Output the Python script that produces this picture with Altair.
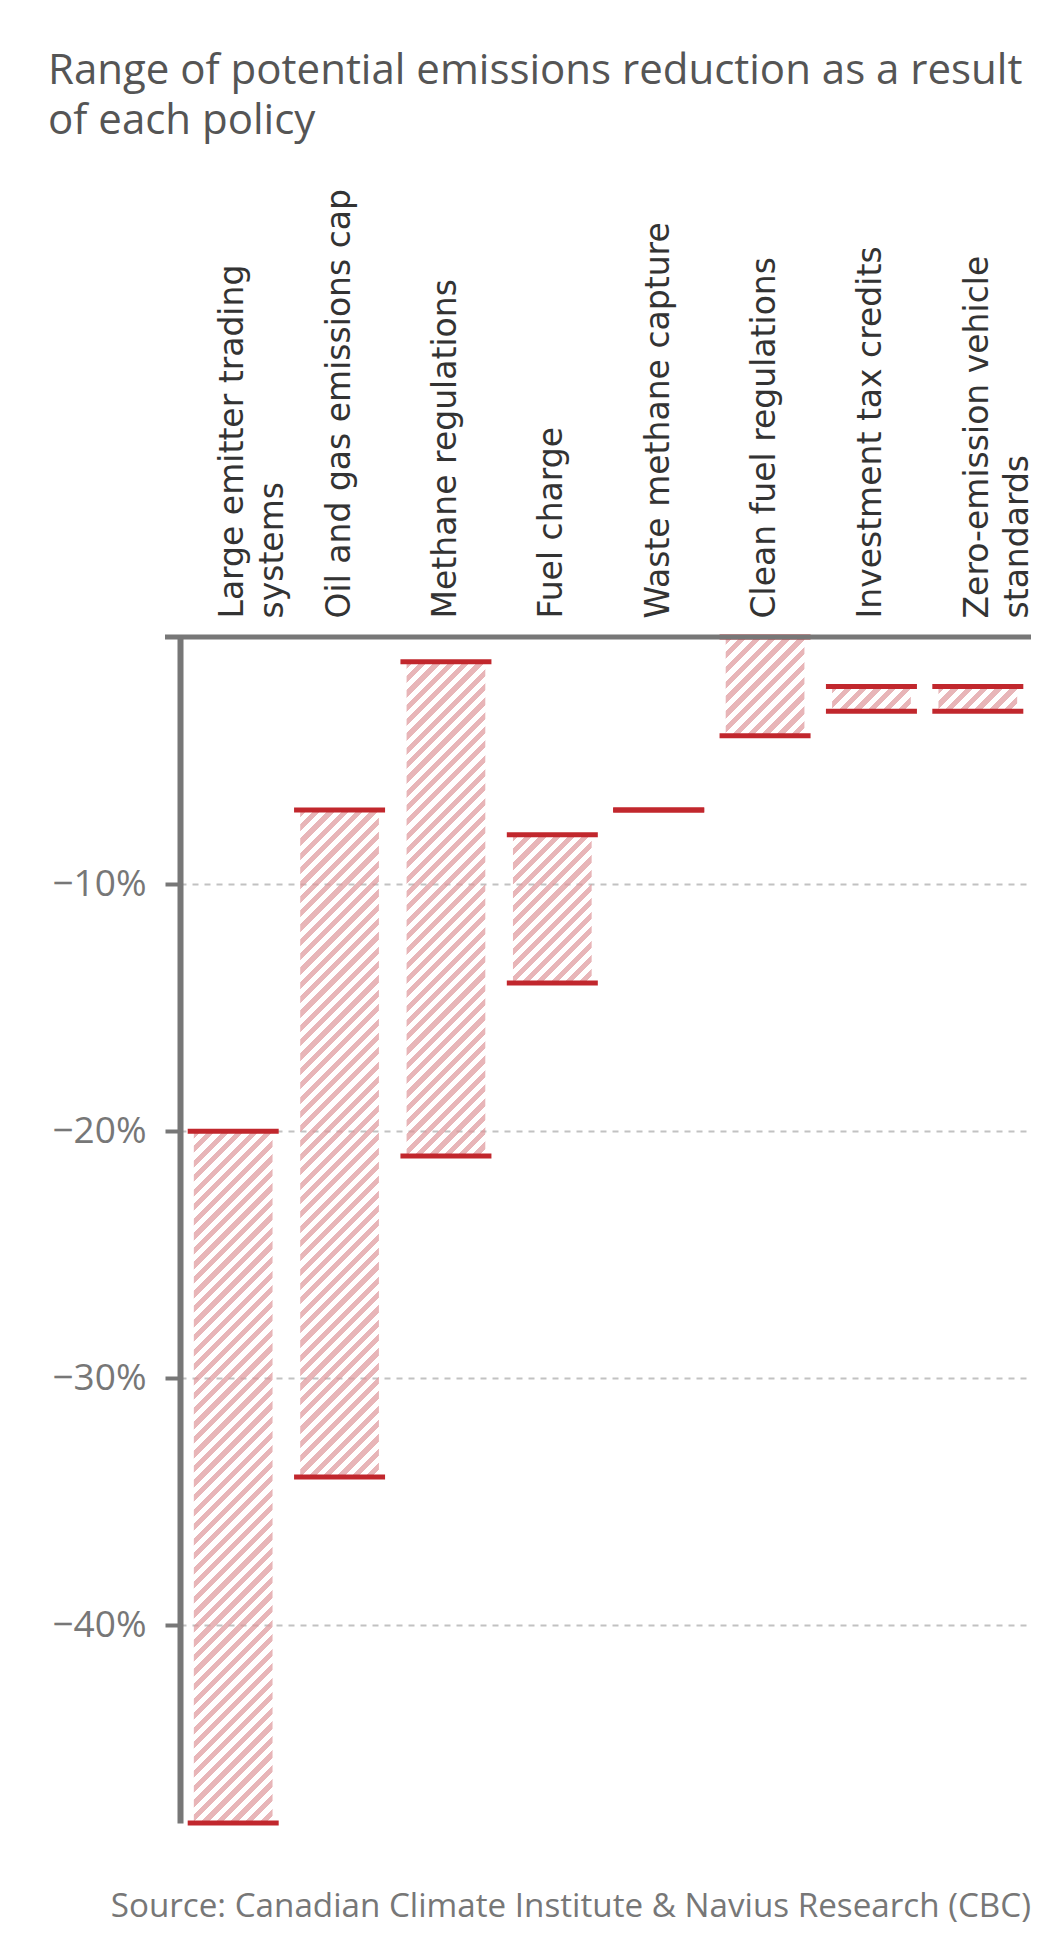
import math
import altair as alt
import pandas as pd

# ---------------- data ----------------
policies = [
    "Large emitter trading systems",
    "Oil and gas emissions cap",
    "Methane regulations",
    "Fuel charge",
    "Waste methane capture",
    "Clean fuel regulations",
    "Investment tax credits",
    "Zero-emission vehicle standards",
]
low = [-48, -34, -21, -14, -7, -4, -3, -3]
high = [-20, -7, -1, -8, -7, 0, -2, -2]
y_ticks = [-10, -20, -30, -40]

TITLE = "Range of potential emissions reduction as a result\nof each policy"
SOURCE = "Source: Canadian Climate Institute & Navius Research (CBC)"

df = pd.DataFrame({"policy": policies, "low": low, "high": high})

# ---------------- style ----------------
W, H = 851, 1186
Y_MIN = -48
RED = "#c1272d"
PINK = "rgba(222,150,154,0.7)"
CLEAR = "rgba(255,255,255,0)"
GREY = "#777777"
PAD_INNER = 0.26

px_per_unit = H / (0 - Y_MIN)
bar_w = W / len(policies) * (1 - PAD_INNER)


def hatch(h, period=10.2, frac=0.5):
    """Diagonal stripe fill built from a linear gradient (bbox units)."""
    w = bar_w
    d = w * w + h * h
    x2 = w * (w + h) / d
    y2 = h * (w + h) / d
    n = max(1, round((w + h) / math.sqrt(2) / period))
    stops = []
    for k in range(n):
        a = k / n
        b = (k + frac) / n
        c = (k + 1) / n
        stops += [
            alt.GradientStop(color=PINK, offset=a),
            alt.GradientStop(color=PINK, offset=b),
            alt.GradientStop(color=CLEAR, offset=b),
            alt.GradientStop(color=CLEAR, offset=c),
        ]
    return alt.LinearGradient(gradient="linear", stops=stops, x1=0, y1=0, x2=x2, y2=y2)


label_expr = (
    "datum.label == 'Large emitter trading systems' ? ['Large emitter trading', 'systems'] : "
    "datum.label == 'Zero-emission vehicle standards' ? ['Zero-emission vehicle', 'standards'] : "
    "datum.label"
)

x_enc = alt.X(
    "policy:N",
    sort=policies,
    scale=alt.Scale(paddingInner=PAD_INNER, paddingOuter=PAD_INNER / 2),
    axis=alt.Axis(
        orient="top",
        title=None,
        labelAngle=270,
        labelAlign="left",
        labelBaseline="middle",
        labelPadding=19,
        ticks=False,
        tickSize=0,
        domain=False,
        grid=False,
        labelFont="DejaVu Sans",
        labelFontSize=33,
        labelColor="#333333",
        labelLimit=0,
        labelLineHeight=40,
        labelOverlap=False,
        labelExpr=label_expr,
    ),
)

y_axis = alt.Axis(
    title=None,
    values=y_ticks,
    labelExpr="format(datum.value, 'd') + '%'",
    domainColor=GREY,
    domainWidth=6,
    tickColor=GREY,
    tickWidth=4,
    tickSize=15,
    labelFont="Open Sans",
    labelFontSize=37,
    labelColor=GREY,
    labelPadding=19,
    grid=True,
    gridColor="#999999",
    gridOpacity=0.6,
    gridDash=[6, 6],
    gridWidth=2,
)
y_scale = alt.Scale(domain=[Y_MIN, 0], nice=False, zero=False)

base = alt.Chart(df)

layers = []
for p, lo, hi in zip(policies, low, high):
    if hi == lo:
        continue
    h = (hi - lo) * px_per_unit
    layers.append(
        base.transform_filter(alt.datum.policy == p)
        .mark_bar(fill=hatch(h))
        .encode(
            x=x_enc,
            y=alt.Y("low:Q", scale=y_scale, axis=y_axis),
            y2="high:Q",
        )
    )

ticks_low = base.mark_tick(color=RED, thickness=5, size=91, opacity=1).encode(
    x=x_enc, y=alt.Y("low:Q", scale=y_scale, axis=y_axis)
)
ticks_high = base.mark_tick(color=RED, thickness=5, size=91, opacity=1).encode(
    x=x_enc, y=alt.Y("high:Q", scale=y_scale, axis=y_axis)
)

one = pd.DataFrame({"k": [0]})
top_line = alt.Chart(one).mark_rule(color=GREY, strokeWidth=5).encode(
    x=alt.value(-15), x2=alt.value(W), y=alt.value(0)
)

title_text = alt.Chart(one).mark_text(
    align="left",
    baseline="alphabetic",
    font="Open Sans",
    fontSize=42,
    color="#555555",
    lineBreak="\n",
    lineHeight=50,
).encode(x=alt.value(-132), y=alt.value(-553), text=alt.value(TITLE))

source_text = alt.Chart(one).mark_text(
    align="right",
    baseline="alphabetic",
    font="Open Sans",
    fontSize=33.2,
    color=GREY,
).encode(x=alt.value(W), y=alt.value(1280), text=alt.value(SOURCE))

chart = (
    alt.layer(*layers, ticks_low, ticks_high, top_line, title_text, source_text)
    .properties(
        width=W,
        height=H,
        padding={"left": 172, "top": 629, "right": 11, "bottom": 103},
        autosize=alt.AutoSizeParams(type="none"),
        background="white",
    )
    .configure_view(stroke=None)
)

chart.save("out.html", embed_options={"renderer": "svg", "actions": False})
